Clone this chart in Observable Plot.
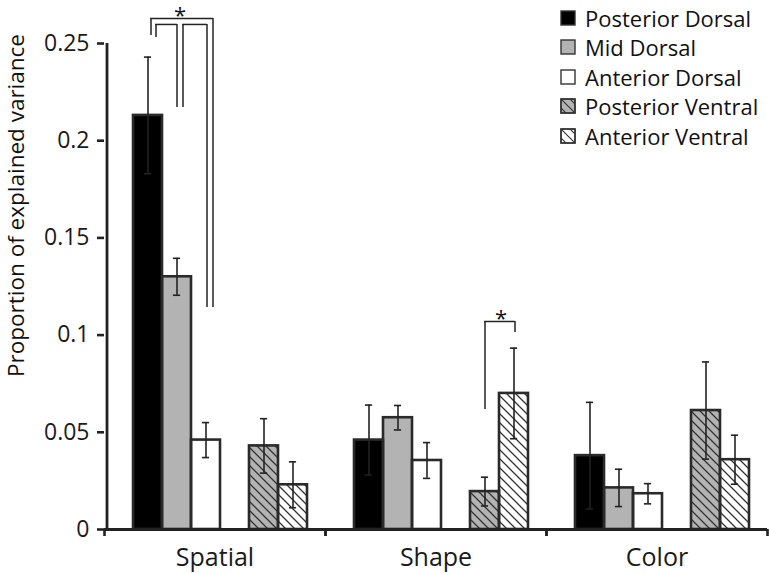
<!DOCTYPE html>
<html>
<head>
<meta charset="utf-8">
<script src="https://cdn.jsdelivr.net/npm/d3@7"></script>
<script src="https://cdn.jsdelivr.net/npm/@observablehq/plot@0.6"></script>
<style>
  html, body { margin: 0; padding: 0; background: #ffffff; }
  #wrap { position: relative; width: 770px; height: 574px; font-family: "Open Sans", sans-serif; }
  #legend { position: absolute; left: 560px; top: 3px; }
  .row { display: flex; align-items: center; height: 29.5px; font-size: 22px; color: #111; white-space: nowrap; }
  .row svg { margin-right: 9px; flex: none; }
</style>
</head>
<body>
<div id="wrap"><div id="chart"></div><div id="legend"></div></div>
<script>
// ---------- data ----------
const groups = ["Spatial", "Shape", "Color"];
const series = ["Posterior Dorsal", "Mid Dorsal", "Anterior Dorsal", "Posterior Ventral", "Anterior Ventral"];
const slots = ["Posterior Dorsal", "Mid Dorsal", "Anterior Dorsal", " ", "Posterior Ventral", "Anterior Ventral"];
const hatched = [false, false, false, true, true];
const fills = ["#000000", "#b3b3b3", "#ffffff", "#b3b3b3", "#ffffff"];

const spatialMean = [0.213, 0.130, 0.046, 0.043, 0.023];
const spatialErr  = [0.030, 0.0095, 0.009, 0.014, 0.0118];
const shapeMean   = [0.046, 0.0575, 0.0355, 0.0195, 0.070];
const shapeErr    = [0.018, 0.0063, 0.0092, 0.0074, 0.0233];
const colorMean   = [0.038, 0.0214, 0.0184, 0.0612, 0.0359];
const colorErr    = [0.0274, 0.0096, 0.0052, 0.025, 0.0126];

const yTicks = [0, 0.05, 0.1, 0.15, 0.2, 0.25];
const yLabel = "Proportion of explained variance";

// significance brackets
const bracketGroup   = ["Spatial", "Spatial", "Spatial", "Shape"];
const bracketFrom    = ["Posterior Dorsal", "Mid Dorsal", "Posterior Dorsal", "Posterior Ventral"];
const bracketTo      = ["Mid Dorsal", "Anterior Dorsal", "Anterior Dorsal", "Anterior Ventral"];
const bracketTop     = [0.2598, 0.2598, 0.2629, 0.107];
const bracketFromEnd = [0.2531, 0.2171, 0.2541, 0.0617];
const bracketToEnd   = [0.2171, 0.1142, 0.1142, 0.1013];
const starGroup = ["Spatial", "Shape"];
const starAt    = ["Mid Dorsal", "Posterior Ventral"];
const starY     = [0.2629, 0.107];
const starText  = ["*", "*"];

// ---------- layout / style ----------
const W = 770, H = 574, ML = 104, MR = 3, MT = 43, MB = 45;
const padOuter = 0.705, alignX = 0.62;
const facetW = (W - ML - MR) / groups.length;
const bw = facetW / (slots.length + 2 * padOuter);
const firstCenter = 2 * padOuter * bw * alignX + bw / 2; // offset of first band centre from facet edge
const capW = 8;
const legDxFrom = [8, 6, 3, 0];   // small pixel nudges so nested bracket legs don't overlap
const legDxTo   = [0, 1, 7, 1];
const starDx    = [3, 16];
const ink = "#222";

// ---------- table ----------
const means = [spatialMean, shapeMean, colorMean];
const errs = [spatialErr, shapeErr, colorErr];
const rows = groups.flatMap((g, gi) => series.map((s, si) => ({
  group: g, series: s, mean: means[gi][si], err: errs[gi][si], hatched: hatched[si]
})));
const facetRows = groups.map(g => ({group: g}));
const brackets = bracketGroup.map((g, i) => ({
  group: g, from: bracketFrom[i], to: bracketTo[i], top: bracketTop[i],
  fromEnd: bracketFromEnd[i], toEnd: bracketToEnd[i]
}));
const stars = starGroup.map((g, i) => ({group: g, at: starAt[i], y: starY[i], text: starText[i]}));

const bracketMarks = brackets.flatMap((b, i) => [
  Plot.ruleX([b], {fx: "group", x: "from", y1: "fromEnd", y2: "top", dx: legDxFrom[i], stroke: ink, strokeWidth: 1.5}),
  Plot.ruleX([b], {fx: "group", x: "to", y1: "toEnd", y2: "top", dx: legDxTo[i], stroke: ink, strokeWidth: 1.5}),
  Plot.ruleY([b], {fx: "group", y: "top", x1: "from", x2: "to",
    insetLeft: bw / 2 + legDxFrom[i] - 0.75, insetRight: bw / 2 - legDxTo[i] - 0.75, stroke: ink, strokeWidth: 1.5})
]);
const starMarks = stars.map((s, i) =>
  Plot.text([s], {fx: "group", x: "at", y: "y", text: "text", dx: starDx[i], dy: 5, lineAnchor: "bottom", fontSize: 22, fill: "#111"})
);

const chart = Plot.plot({
  width: W, height: H,
  marginLeft: ML, marginRight: MR, marginTop: MT, marginBottom: MB,
  style: {fontFamily: "'Open Sans', sans-serif", color: "#1a1a1a", background: "#ffffff", overflow: "visible"},
  fx: {domain: groups, padding: 0, label: null},
  x: {domain: slots, paddingInner: 0, paddingOuter: padOuter, align: alignX, axis: null},
  y: {domain: [0, 0.25], axis: null},
  color: {domain: series, range: fills},
  marks: [
    Plot.barY(rows, {fx: "group", x: "series", y: "mean", fill: "series"}),
    Plot.barY(rows.filter(d => d.hatched), {fx: "group", x: "series", y: "mean", fill: "url(#hatch)"}),
    Plot.barY(rows, {fx: "group", x: "series", y: "mean", fill: "none", stroke: "#2a2a2a", strokeWidth: 2.6}),
    Plot.ruleX(rows, {fx: "group", x: "series", y1: d => d.mean - d.err, y2: d => d.mean + d.err, stroke: ink, strokeWidth: 1.6}),
    Plot.tickY(rows, {fx: "group", x: "series", y: d => d.mean + d.err, insetLeft: (bw - capW) / 2, insetRight: (bw - capW) / 2, stroke: ink, strokeWidth: 1.6}),
    Plot.tickY(rows, {fx: "group", x: "series", y: d => d.mean - d.err, insetLeft: (bw - capW) / 2, insetRight: (bw - capW) / 2, stroke: ink, strokeWidth: 1.6}),
    // baseline (one rule per facet, facets are flush so it is continuous)
    Plot.ruleY(facetRows, {fx: "group", y: () => 0, stroke: ink, strokeWidth: 2.8}),
    // y axis line, in the first facet at its left edge
    Plot.ruleX(facetRows.slice(0, 1), {fx: "group", x: () => slots[0], y1: () => 0, y2: () => yTicks[yTicks.length - 1],
      dx: -firstCenter, stroke: ink, strokeWidth: 2.8}),
    Plot.axisY({ticks: yTicks, tickFormat: d => String(d), tickSize: 7, tickPadding: 8, fontSize: 23,
      stroke: ink, strokeWidth: 2.6, label: null}),
    Plot.text(facetRows.slice(0, 1), {fx: "group", text: () => yLabel, frameAnchor: "left", rotate: -90,
      textAnchor: "middle", dx: -96, dy: -81, lineAnchor: "top", fontSize: 22.5, fill: "#111"}),
    Plot.axisFx({anchor: "bottom", tickSize: 0, tickPadding: 19, fontSize: 25, label: null}),
    Plot.axisFx({anchor: "bottom", tickSize: 7, fill: "none", label: null, dx: facetW / 2, stroke: ink, strokeWidth: 2.6}),
    Plot.axisFx({anchor: "bottom", tickSize: 7, fill: "none", label: null, dx: -facetW / 2, stroke: ink, strokeWidth: 2.6}),
    ...bracketMarks,
    ...starMarks
  ]
});

// hatch pattern (style only)
const svg = d3.select(chart);
const defs = svg.insert("defs", ":first-child");
const pat = defs.append("pattern").attr("id", "hatch").attr("patternUnits", "userSpaceOnUse")
  .attr("width", 9).attr("height", 9);
pat.append("path").attr("d", "M0,0L9,9M-3,6L3,12M6,-3L12,3").attr("stroke", "#333").attr("stroke-width", 1.3);
document.getElementById("chart").appendChild(chart);

// legend
const legend = d3.select("#legend");
series.forEach((s, i) => {
  const row = legend.append("div").attr("class", "row");
  const sw = row.append("svg").attr("width", 16).attr("height", 16);
  if (hatched[i]) {
    const p = sw.append("defs").append("pattern").attr("id", "lh" + i).attr("patternUnits", "userSpaceOnUse")
      .attr("width", 9).attr("height", 9);
    p.append("path").attr("d", "M0,0L9,9M-3,6L3,12M6,-3L12,3").attr("stroke", "#333").attr("stroke-width", 1.2);
  }
  sw.append("rect").attr("x", 1).attr("y", 1).attr("width", 14).attr("height", 14)
    .attr("fill", fills[i]).attr("stroke", "#333").attr("stroke-width", 1.4);
  if (hatched[i]) sw.append("rect").attr("x", 1).attr("y", 1).attr("width", 14).attr("height", 14)
    .attr("fill", "url(#lh" + i + ")").attr("stroke", "#333").attr("stroke-width", 1.4);
  row.append("span").text(s);
});
</script>
</body>
</html>
